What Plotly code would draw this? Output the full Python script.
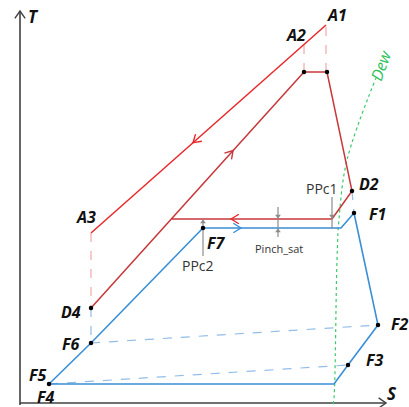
import math
import plotly.graph_objects as go

# schematic T-S diagram (S to the right, T up)
hot_s = [326, 91]                      # A1 -> A3
hot_t = [382, 174]
cold_red_s = [91, 304, 327, 352, 332, 172]   # D4 -> top -> D2 -> PPc1 -> pinch line
cold_red_t = [99, 335, 335, 216, 188, 188]
blue_s = [49, 91, 203, 341, 354, 378, 348, 334, 49]   # F4 F6 F7 .. F1 F2 F3 .. F4
blue_t = [23, 64, 179, 179, 194, 82, 42, 23, 23]
dew_s = [333, 334, 337, 339, 347, 376]
dew_t = [3, 9, 147, 188, 247, 329]

dots_s = [304, 327, 352, 354, 203, 91, 91, 49, 378, 348]
dots_t = [335, 335, 216, 194, 179, 99, 64, 23, 82, 42]

labels = ["A1", "A2", "A3", "D2", "F1", "F2", "F3", "F4", "F5", "F6", "D4", "F7"]
label_s = [337, 296, 86, 369, 377, 399, 374, 45, 37, 71, 71, 216]
label_t = [392, 372, 190, 223, 193, 83, 47, 10, 32, 63, 95, 164]

RED = "#e8282b"
DARK_RED = "#c8373a"
BLUE = "#3a8fd6"
PINK = "#f2a9a9"
LBLUE = "#92bde8"
GRAY = "#8c8c8c"

fig = go.Figure()


def line(xs, ys, color, width=1.5, dash=None):
    fig.add_trace(go.Scatter(x=xs, y=ys, mode="lines", hoverinfo="skip",
                             line=dict(color=color, width=width, dash=dash)))


def chevron(x0, y0, x1, y1, t, color, size=9, spread=32):
    # open arrow pointing from (x0,y0) toward (x1,y1), tip at fraction t
    tx, ty = x0 + (x1 - x0) * t, y0 + (y1 - y0) * t
    ang = math.atan2(y1 - y0, x1 - x0)
    xs, ys = [], []
    for s in (spread, -spread):
        a = ang + math.pi + math.radians(s)
        xs += [tx + size * math.cos(a), tx]
        ys += [ty + size * math.sin(a), ty]
    line([xs[0], xs[1], xs[2]], [ys[0], ys[1], ys[2]], color, 1.4)


# axes with open arrowheads
line([20, 20], [2, 396], "#404040", 1.6)
line([20, 386], [4, 4], "#404040", 1.6)
chevron(20, 300, 20, 396, 1.0, "#404040", 9, 35)
chevron(300, 4, 386, 4, 1.0, "#404040", 9, 35)

# dashed guides
line([304, 304], [335, 362], PINK, 1.2, "dash")
line([326, 326], [335, 380], PINK, 1.2, "dash")
line([91, 91], [174, 99], PINK, 1.2, "dash")
line([91, 91], [99, 64], LBLUE, 1.2, "dash")
line([352, 354], [216, 194], LBLUE, 1.2, "dash")
line([91, 378], [64, 82], LBLUE, 1.2, "dash")
line([49, 348], [23, 42], LBLUE, 1.2, "dash")

# dew line
fig.add_trace(go.Scatter(x=dew_s, y=dew_t, mode="lines", hoverinfo="skip",
                         line=dict(color="#3cc96a", width=1.2, dash="dot", shape="spline")))

# main curves
line(hot_s, hot_t, RED, 1.5)
line(cold_red_s, cold_red_t, DARK_RED, 1.5)
line(blue_s, blue_t, BLUE, 1.6)

# flow arrows
chevron(hot_s[0], hot_t[0], hot_s[1], hot_t[1], 0.566, RED)
chevron(91, 99, 304, 335, 0.667, DARK_RED)
chevron(332, 188, 172, 188, 0.63, RED)
chevron(203, 179, 341, 179, 0.275, BLUE)

# pinch markers
line([278, 278], [170, 200], GRAY, 1.2)
line([332, 332], [178, 210], GRAY, 1.2)
line([203, 203], [151, 188], GRAY, 1.2)
fig.add_trace(go.Scatter(x=[278, 332, 278, 203], y=[191, 191, 176, 185], mode="markers",
                         hoverinfo="skip",
                         marker=dict(symbol=["triangle-down", "triangle-down", "triangle-up", "triangle-up"],
                                     size=5, color=GRAY)))

# state points
fig.add_trace(go.Scatter(x=dots_s, y=dots_t, mode="markers", hoverinfo="skip",
                         marker=dict(size=4.5, color="black")))

for name, s, t in zip(labels, label_s, label_t):
    fig.add_annotation(x=s, y=t, text=f"<b><i>{name}</i></b>", showarrow=False,
                       font=dict(family="Open Sans", size=16, color="#111111"))

fig.add_annotation(x=33, y=391, text="<b><i>T</i></b>", showarrow=False,
                   font=dict(family="Open Sans", size=17, color="#111111"))
fig.add_annotation(x=392, y=14, text="<b><i>S</i></b>", showarrow=False,
                   font=dict(family="Open Sans", size=17, color="#111111"))
fig.add_annotation(x=322, y=219, text="PPc1", showarrow=False,
                   font=dict(family="Open Sans", size=14, color="#333333"))
fig.add_annotation(x=198, y=142, text="PPc2", showarrow=False,
                   font=dict(family="Open Sans", size=14, color="#333333"))
fig.add_annotation(x=279, y=159, text="Pinch_sat", showarrow=False,
                   font=dict(family="Open Sans", size=11, color="#333333"))
fig.add_annotation(x=381, y=342, text="<i>Dew</i>", showarrow=False, textangle=-70,
                   font=dict(family="Open Sans", size=16, color="#2fbf5c"))

fig.update_layout(
    width=409, height=407,
    margin=dict(l=0, r=0, t=0, b=0),
    paper_bgcolor="white", plot_bgcolor="white",
    showlegend=False,
    xaxis=dict(range=[0, 409], visible=False, fixedrange=True),
    yaxis=dict(range=[0, 407], visible=False, fixedrange=True),
)

# drop the page's default body margin so the figure fills the window
fig.write_html("out.html", config={"displayModeBar": False},
               post_script="document.body.style.margin='0';")
